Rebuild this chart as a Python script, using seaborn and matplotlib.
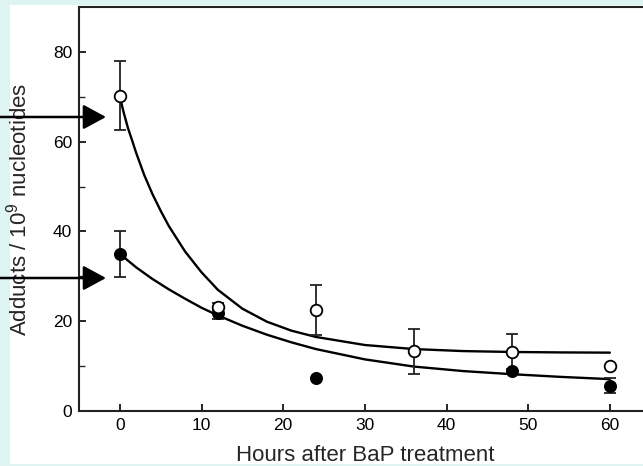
import numpy as np
import pandas as pd
import matplotlib
matplotlib.use("Agg")
import matplotlib.pyplot as plt
import seaborn as sns
from matplotlib.patches import Rectangle

sns.set_style("ticks")
plt.rcParams['font.family'] = ['Liberation Sans', 'DejaVu Sans']
plt.rcParams['mathtext.fontset'] = 'custom'
plt.rcParams['mathtext.rm'] = 'Liberation Sans'

# measured points (open = upper series, filled = lower series)
open_x = [0, 12, 24, 36, 48, 60]
open_y = [70.2, 23.2, 22.5, 13.3, 13.2, 10.0]
open_err = [7.7, 0.8, 5.6, 5.0, 3.9, 0.0]

filled_x = [0, 12, 24, 48, 60]
filled_y = [35.0, 21.8, 7.3, 8.8, 5.6]
filled_err = [5.2, 1.2, 0.0, 0.0, 1.7]

# fitted decay curves
curve_x_upper = [0, 0.5, 1, 1.5, 2, 3, 4, 5, 6, 8, 10, 12, 15, 18, 21, 24, 30, 36, 42, 48, 54, 60]
curve_y_upper = [70, 66.3, 63, 60.3, 57.5, 52.5, 48.3, 44.6, 41.2, 35.5, 30.9, 27.0, 22.8, 19.9, 17.9, 16.5, 14.7, 13.8, 13.35, 13.15, 13.05, 13.0]

curve_x_lower = [0, 2, 4, 6, 8, 10, 12, 15, 18, 21, 24, 30, 36, 42, 48, 54, 60]
curve_y_lower = [35, 32.0, 29.4, 27.1, 25.0, 23.0, 21.3, 19.0, 17.0, 15.3, 13.8, 11.5, 9.9, 8.9, 8.2, 7.6, 7.1]

fig = plt.figure(figsize=(6.43, 4.66), dpi=100)
fig.patch.set_facecolor('#ddf4f1')
fig.add_artist(Rectangle((10 / 643, 2 / 466), 640 / 643, 459 / 466,
                         transform=fig.transFigure, facecolor='white',
                         edgecolor='none', zorder=0))

ax = fig.add_axes([79 / 643, 55 / 466, 571.7 / 643, 404 / 466])
ax.set_facecolor('white')

up = pd.DataFrame({'x': curve_x_upper, 'y': curve_y_upper})
lo = pd.DataFrame({'x': curve_x_lower, 'y': curve_y_lower})
sns.lineplot(data=up, x='x', y='y', ax=ax, color='black', lw=1.7, zorder=2)
sns.lineplot(data=lo, x='x', y='y', ax=ax, color='black', lw=1.7, zorder=2)

ax.errorbar(filled_x, filled_y, yerr=filled_err, fmt='none', ecolor='#222222',
            elinewidth=1.3, capsize=4, capthick=1.3, zorder=3)
ax.errorbar(open_x, open_y, yerr=open_err, fmt='none', ecolor='#222222',
            elinewidth=1.3, capsize=4, capthick=1.3, zorder=3)

sns.scatterplot(x=filled_x, y=filled_y, ax=ax, s=70, color='black',
                edgecolor='black', linewidth=1, zorder=4)
sns.scatterplot(x=open_x, y=open_y, ax=ax, s=70, color='white',
                edgecolor='black', linewidth=1.3, zorder=5)

ax.set_xlim(-5, 65)
ax.set_ylim(0, 90)
ax.set_xticks([0, 10, 20, 30, 40, 50, 60])
ax.set_yticks([0, 20, 40, 60, 80])
ax.set_yticks([10, 30, 50, 70], minor=True)
ax.tick_params(direction='in', length=5, width=1.2, labelsize=12.5, pad=5, colors='black')
ax.tick_params(which='minor', direction='in', length=4, width=1.0)

for s in ax.spines.values():
    s.set_linewidth(1.5)
    s.set_color('#222222')

ax.set_xlabel('Hours after BaP treatment', fontsize=16)
ax.set_ylabel(r'Adducts / 10$^{9}$ nucleotides', fontsize=16)
ax.xaxis.set_label_coords(0.5, -0.083)
ax.yaxis.set_label_coords(-0.083, 0.5)

# the two pointer arrows on the left
for yy in [117, 278]:
    ax.annotate('', xy=(106, 466 - yy), xytext=(0, 466 - yy),
                xycoords='figure pixels', textcoords='figure pixels',
                arrowprops=dict(arrowstyle='-|>,head_length=0.7,head_width=0.38',
                                mutation_scale=20, lw=1.8, color='black',
                                shrinkA=0, shrinkB=0),
                annotation_clip=False)

fig.savefig('out.png', dpi=100, facecolor=fig.get_facecolor())
